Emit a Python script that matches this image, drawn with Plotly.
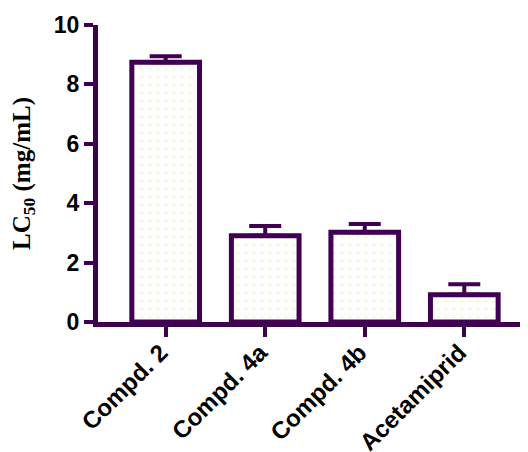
import plotly.graph_objects as go

categories = ["Compd. 2", "Compd. 4a", "Compd. 4b", "Acetamiprid"]
lc50 = [8.75, 2.9, 3.02, 0.92]
err_up = [0.2, 0.33, 0.28, 0.35]
y_ticks = [0, 2, 4, 6, 8, 10]

purple = "#3f0051"

fig = go.Figure()
fig.add_trace(go.Bar(
    x=categories, y=lc50, width=0.68,
    marker=dict(
        color="white",
        line=dict(color=purple, width=5),
        pattern=dict(shape=".", fgcolor="#eef0b0", bgcolor="white", size=8, solidity=0.12),
    ),
    error_y=dict(type="data", array=err_up, arrayminus=[0]*4, symmetric=False,
                 color=purple, thickness=4, width=16),
    cliponaxis=False,
))

fig.update_layout(
    width=520, height=444,
    margin=dict(l=90, r=1, t=17, b=130),
    plot_bgcolor="white", paper_bgcolor="white",
    showlegend=False,
    font=dict(family="Liberation Sans, Arial", color="black"),
)
fig.update_xaxes(
    range=[-0.68, 3.63], showline=True, linecolor=purple, linewidth=5,
    ticks="outside", ticklen=10, tickwidth=4, tickcolor=purple,
    tickangle=-45, tickfont=dict(size=24, family="Liberation Sans, Arial", weight="bold"),
    ticklabelstandoff=-8, ticklabelshift=-5,
    showgrid=False, zeroline=False, automargin=False,
)
fig.update_yaxes(
    range=[0, 10], tickvals=y_ticks, showline=True, linecolor=purple, linewidth=5,
    ticks="outside", ticklen=9, tickwidth=4, tickcolor=purple,
    tickfont=dict(size=23, family="Liberation Sans, Arial", weight="bold"),
    showgrid=False, zeroline=False, automargin=False,
    title=dict(text="<b>LC<sub>50</sub> (mg/mL)</b>",
               font=dict(size=25, family="Liberation Serif, Times New Roman"), standoff=19),
)
fig.write_html("out.html")
